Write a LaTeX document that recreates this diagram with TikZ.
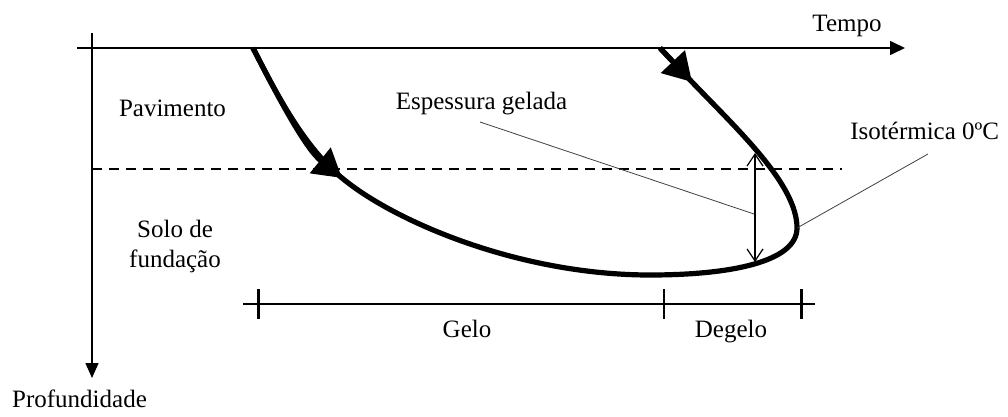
\documentclass[tikz,border=0pt]{standalone}
\usepackage{fontspec}
\setmainfont{Liberation Serif}
\usetikzlibrary{arrows.meta}
\usetikzlibrary{positioning}

\tikzset{
  lbl/.style={font=\fontsize{12.5}{15}\selectfont,text=black,inner sep=0pt},
  axisline/.style={black,line width=0.8pt},
  frontline/.style={black,line width=2.6pt},
  leader/.style={black!75,line width=0.4pt},
  bigtip/.style={-{Triangle[length=14pt,width=16pt]}},
}

\begin{document}
\begin{tikzpicture}[x=0.5pt,y=-0.5pt]
\useasboundingbox (0,0) rectangle (1008,417);

% axes
\coordinate (ox) at (77,48);
\coordinate (tx) at (905,48);
\coordinate (oy) at (92,33);
\coordinate (ty) at (92,378);
\draw[axisline,-{Triangle[length=7.5pt,width=7pt]}] (ox) -- (tx);
\draw[axisline,-{Triangle[length=7.5pt,width=6.5pt]}] (oy) -- (ty);
\node[lbl,anchor=base] (tempo) at (847,32) {Tempo};
\node[lbl,anchor=base] (prof) at (79.5,408) {Profundidade};

% layers
\coordinate (dl) at (92,169);
\coordinate (dr) at (842,169);
\draw[black,line width=0.75pt,dash pattern=on 5pt off 3.5pt] (dl) -- (dr);
\node[lbl,anchor=base] (pav) at (172.5,117) {Pavimento};
\node[lbl,anchor=base] (solo) at (175,238) {Solo de};
\node[lbl,anchor=base] (fund) at (175,268) {fundação};

% freezing / thawing fronts
\coordinate (a0) at (253,48);
\coordinate (a1) at (342,178);
\coordinate (bot) at (650,275);
\coordinate (nose) at (797,228);
\coordinate (b0) at (660,48);
\coordinate (b1) at (692,82);
\draw[frontline] (a0) .. controls (278,97) and (305,148) .. (a1)
  .. controls (395,222) and (520,275) .. (bot)
  .. controls (730,275) and (797,262) .. (nose)
  .. controls (797,185) and (740,132) .. (b1) -- (b0);
\draw[frontline,bigtip] (a0) .. controls (278,97) and (305,148) .. (a1);
\draw[frontline,bigtip] (b0) -- (b1);

% frozen depth
\coordinate (dt) at (755,153);
\coordinate (db) at (755,262);
\draw[black,line width=0.6pt,{Straight Barb[length=6pt,width=8pt]}-{Straight Barb[length=6pt,width=8pt]}] (dt) -- (db);
\node[lbl,anchor=base] (esp) at (481.5,110) {Espessura gelada};
\coordinate (espfrom) at (480,122);
\coordinate (espto) at (754,214);
\draw[leader] (espfrom) -- (espto);
\node[lbl,anchor=base west] (iso) at (850,140) {Isotérmica 0ºC};
\coordinate (isofrom) at (928,154);
\draw[leader] (isofrom) -- (nose);

% time spans
\coordinate (tl) at (243,304);
\coordinate (tr) at (815,304);
\draw[axisline] (tl) -- (tr);
\draw[black,line width=1.5pt] (258,289) -- (258,319);
\draw[black,line width=0.75pt] (664,289) -- (664,319);
\draw[black,line width=1.5pt] (801,289) -- (801,319);
\node[lbl,anchor=base] (gelo) at (467,337) {Gelo};
\node[lbl,anchor=base] (degelo) at (731,337) {Degelo};

\end{tikzpicture}
\end{document}
